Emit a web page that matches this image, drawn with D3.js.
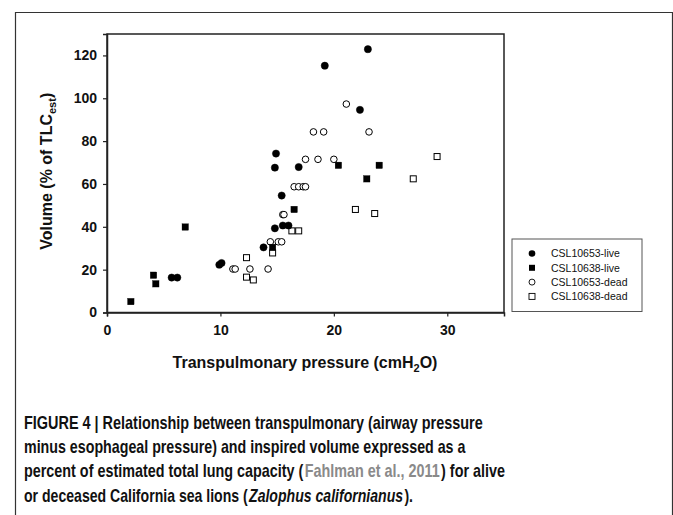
<!DOCTYPE html>
<html><head><meta charset="utf-8">
<script src="https://cdn.jsdelivr.net/npm/d3@7"></script>
<style>html,body{margin:0;padding:0;background:#fff;}svg{display:block;}</style>
</head><body>
<script>
// ---- data ----
const live653X = [5.7, 6.2, 9.9, 10.1, 13.8, 14.8, 15.5, 16.0, 15.4, 14.8, 14.9, 16.9, 19.2, 22.3, 23.0];
const live653Y = [16.3, 16.3, 22.3, 23.1, 30.4, 39.3, 40.6, 40.6, 54.6, 67.6, 74.2, 67.9, 115.2, 94.6, 122.9];
const live638X = [2.1, 4.1, 4.3, 6.9, 14.6, 16.5, 20.4, 22.9, 24.0];
const live638Y = [5.1, 17.4, 13.4, 39.9, 30.4, 48.1, 68.7, 62.4, 68.7];
const dead653X = [11.1, 11.3, 12.6, 14.2, 14.4, 15.1, 15.4, 15.5, 15.6, 16.5, 16.9, 17.3, 17.5, 17.5, 18.6, 20.0, 18.2, 19.1, 21.1, 23.1];
const dead653Y = [20.3, 20.3, 20.3, 20.3, 33.0, 33.0, 33.0, 45.7, 45.7, 58.7, 58.7, 58.7, 58.7, 71.5, 71.5, 71.5, 84.3, 84.3, 97.3, 84.3];
const dead638X = [12.3, 12.3, 12.9, 14.6, 16.3, 16.9, 21.9, 23.6, 27.0, 29.1];
const dead638Y = [25.6, 16.5, 15.2, 27.8, 38.1, 38.1, 48.1, 46.2, 62.4, 72.8];
const xTicks = [0, 10, 20, 30];
const yTicks = [0, 20, 40, 60, 80, 100, 120];
const seriesNames = ["CSL10653-live", "CSL10638-live", "CSL10653-dead", "CSL10638-dead"];

const W = 673, H = 515;
const svg = d3.select("body").append("svg").attr("width", W).attr("height", H);

// outer frame
svg.append("path").attr("d", "M15.5," + H + "V12.5H672.5V" + H)
  .attr("fill", "none").attr("stroke", "#333").attr("stroke-width", 1.2);

const L = 107, R = 504, T = 34, B = 312.5;
const x = d3.scaleLinear().domain([0, 35]).range([L, R]);
const y = d3.scaleLinear().domain([0, 130]).range([B, T]);

// plot frame
svg.append("rect").attr("x", L).attr("y", T).attr("width", R - L).attr("height", B - T)
  .attr("fill", "none").attr("stroke", "#222").attr("stroke-width", 1.5);

const fontTick = "Arial, 'Liberation Sans', sans-serif";
const xa = svg.append("g").attr("transform", `translate(0,${B})`)
  .call(d3.axisBottom(x).tickValues(xTicks).tickSize(4).tickPadding(9).tickFormat(d3.format("d")));
const ya = svg.append("g").attr("transform", `translate(${L},0)`)
  .call(d3.axisLeft(y).tickValues(yTicks).tickSize(4).tickPadding(6).tickFormat(d3.format("d")));
[xa, ya].forEach(a => {
  a.select(".domain").attr("stroke", "#222").attr("stroke-width", 1.5);
  a.selectAll(".tick line").attr("stroke", "#222").attr("stroke-width", 1.2);
  a.selectAll(".tick text").attr("font-family", fontTick).attr("font-weight", "bold")
    .attr("font-size", 14).attr("fill", "#111");
});

// axis titles
const yt = svg.append("text").attr("transform", `translate(52,${(T + B) / 2 - 2}) rotate(-90)`)
  .attr("text-anchor", "middle").attr("font-family", fontTick).attr("font-weight", "bold")
  .attr("font-size", 16).attr("fill", "#111");
yt.append("tspan").text("Volume (% of TLC");
yt.append("tspan").attr("font-size", 11).attr("dy", 4).text("est");
yt.append("tspan").attr("dy", -4).text(")");

const xt = svg.append("text").attr("x", 305).attr("y", 368)
  .attr("text-anchor", "middle").attr("font-family", fontTick).attr("font-weight", "bold")
  .attr("font-size", 16).attr("fill", "#111");
xt.append("tspan").text("Transpulmonary pressure (cmH");
xt.append("tspan").attr("font-size", 11).attr("dy", 4).text("2");
xt.append("tspan").attr("dy", -4).text("O)");

// markers
const g = svg.append("g");
function drawCircles(xs, ys, filled) {
  g.selectAll(null).data(xs.map((v, i) => [v, ys[i]])).enter().append("circle")
    .attr("cx", d => x(d[0])).attr("cy", d => y(d[1]))
    .attr("r", filled ? 3.6 : 3.3)
    .attr("fill", filled ? "#000" : "#fff").attr("stroke", "#000").attr("stroke-width", filled ? 0.5 : 1);
}
function drawSquares(xs, ys, filled) {
  const s = filled ? 6.5 : 6;
  g.selectAll(null).data(xs.map((v, i) => [v, ys[i]])).enter().append("rect")
    .attr("x", d => x(d[0]) - s / 2).attr("y", d => y(d[1]) - s / 2)
    .attr("width", s).attr("height", s)
    .attr("fill", filled ? "#000" : "#fff").attr("stroke", "#000").attr("stroke-width", filled ? 0.3 : 1);
}
drawCircles(dead653X, dead653Y, false);
drawSquares(dead638X, dead638Y, false);
drawCircles(live653X, live653Y, true);
drawSquares(live638X, live638Y, true);

// legend
const lg = svg.append("g");
lg.append("rect").attr("x", 512).attr("y", 239).attr("width", 130).attr("height", 72.5)
  .attr("fill", "#fff").attr("stroke", "#555").attr("stroke-width", 1);
seriesNames.forEach((name, i) => {
  const cy = 253.5 + i * 14.3, cx = 532;
  if (i === 0) lg.append("circle").attr("cx", cx).attr("cy", cy).attr("r", 3.3).attr("fill", "#000");
  if (i === 1) lg.append("rect").attr("x", cx - 3).attr("y", cy - 3).attr("width", 6).attr("height", 6).attr("fill", "#000");
  if (i === 2) lg.append("circle").attr("cx", cx).attr("cy", cy).attr("r", 3).attr("fill", "#fff").attr("stroke", "#000").attr("stroke-width", 0.9);
  if (i === 3) lg.append("rect").attr("x", cx - 3).attr("y", cy - 3).attr("width", 6).attr("height", 6).attr("fill", "#fff").attr("stroke", "#000").attr("stroke-width", 0.9);
  lg.append("text").attr("x", 551).attr("y", cy + 3.8).attr("font-family", fontTick)
    .attr("font-size", 10.5).attr("fill", "#111").text(name);
});

// caption: each line is a horizontally scaled group of text segments
const capFont = "'Liberation Sans Narrow', 'Arial Narrow', 'Liberation Sans', sans-serif";
const capLines = [
  { len: 459, parts: [["FIGURE 4 | Relationship between transpulmonary (airway pressure", "n"]] },
  { len: 442, parts: [["minus esophageal pressure) and inspired volume expressed as a", "n"]] },
  { len: 481, parts: [["percent of estimated total lung capacity (", "n"], ["Fahlman et al., 2011", "g"], [") for alive", "n"]] },
  { len: 389, parts: [["or deceased California sea lions (", "n"], ["Zalophus californianus", "i"], [").", "n"]] }
];
capLines.forEach((ln, i) => {
  const yy = 428.5 + i * 24.4;
  const lineG = svg.append("g");
  const nodes = ln.parts.map(p => {
    const t = lineG.append("text").attr("x", 0).attr("y", 0)
      .attr("font-family", capFont).attr("font-weight", "bold").attr("font-size", 17.5)
      .attr("fill", p[1] === "g" ? "#8a8a8a" : "#111").text(p[0]);
    if (p[1] === "i") t.attr("font-style", "italic");
    return t;
  });
  let cur = 0;
  nodes.forEach((t, k) => {
    t.attr("x", cur);
    cur += t.node().getComputedTextLength() + (k < nodes.length - 1 ? 1.5 : 0);
  });
  const sx = ln.len / cur;
  lineG.attr("transform", `translate(24,${yy}) scale(${sx},1)`);
});
</script>
</body></html>
